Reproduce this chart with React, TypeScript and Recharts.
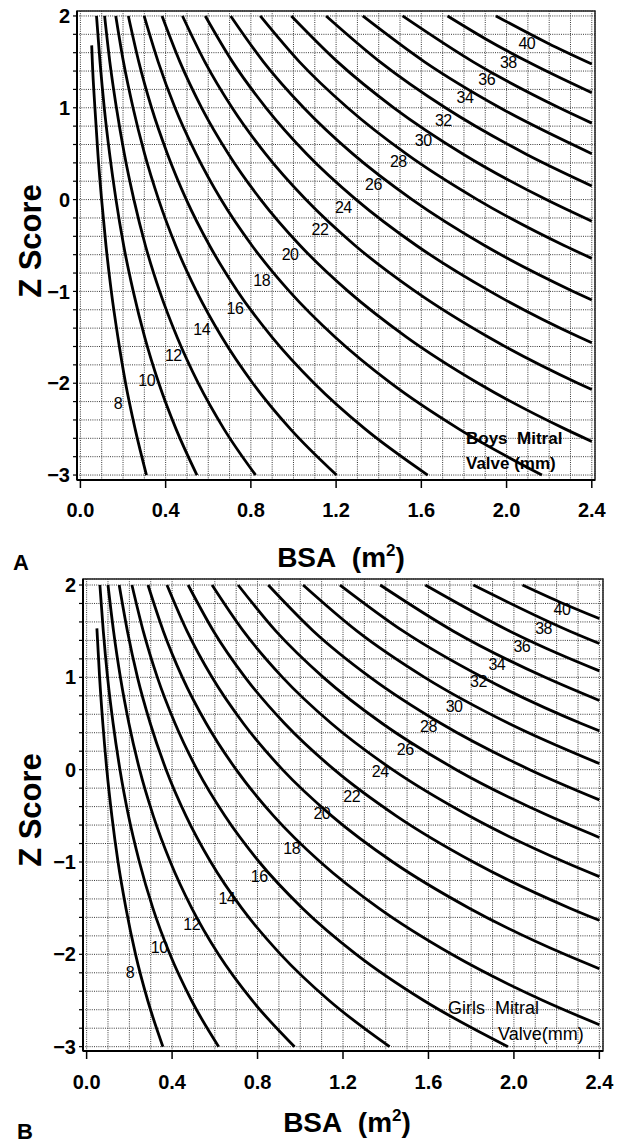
import { ComposedChart, Line, Scatter, XAxis, YAxis, CartesianGrid, ReferenceArea } from 'recharts'

const valveSizes = [8, 10, 12, 14, 16, 18, 20, 22, 24, 26, 28, 30, 32, 34, 36, 38, 40]

const bsaTicks = [
  0, 0.1, 0.2, 0.3, 0.4, 0.5, 0.6, 0.7, 0.8, 0.9, 1.0, 1.1, 1.2,
  1.3, 1.4, 1.5, 1.6, 1.7, 1.8, 1.9, 2.0, 2.1, 2.2, 2.3, 2.4
]

const zTicks = [
  -3, -2.8, -2.6, -2.4, -2.2, -2, -1.8, -1.6, -1.4, -1.2, -1, -0.8, -0.6,
  -0.4, -0.2, 0, 0.2, 0.4, 0.6, 0.8, 1, 1.2, 1.4, 1.6, 1.8, 2
]

// contour lines, one per valve size: [BSA, Z]
const boysCurves: number[][][] = [
  [[0.053, 1.68], [0.056, 1.5], [0.068, 1], [0.082, 0.5], [0.0995, 0], [0.12, -0.5], [0.145, -1], [0.176, -1.5], [0.212, -2], [0.257, -2.5], [0.31, -3]],
  [[0.0755, 2], [0.092, 1.5], [0.112, 1], [0.137, 0.5], [0.167, 0], [0.203, -0.5], [0.248, -1], [0.302, -1.5], [0.368, -2], [0.449, -2.5], [0.547, -3]],
  [[0.1135, 2], [0.138, 1.5], [0.169, 1], [0.206, 0.5], [0.251, 0], [0.305, -0.5], [0.372, -1], [0.454, -1.5], [0.553, -2], [0.674, -2.5], [0.822, -3]],
  [[0.166, 2], [0.202, 1.5], [0.247, 1], [0.301, 0.5], [0.367, 0], [0.447, -0.5], [0.545, -1], [0.664, -1.5], [0.809, -2], [0.986, -2.5], [1.202, -3]],
  [[0.225, 2], [0.274, 1.5], [0.334, 1], [0.408, 0.5], [0.497, 0], [0.606, -0.5], [0.738, -1], [0.9, -1.5], [1.097, -2], [1.337, -2.5], [1.63, -3]],
  [[0.299, 2], [0.365, 1.5], [0.444, 1], [0.542, 0.5], [0.66, 0], [0.805, -0.5], [0.981, -1], [1.196, -1.5], [1.457, -2], [1.777, -2.5], [2.166, -3]],
  [[0.383, 2], [0.467, 1.5], [0.569, 1], [0.694, 0.5], [0.846, 0], [1.031, -0.5], [1.257, -1], [1.532, -1.5], [1.867, -2], [2.276, -2.5], [2.4, -2.634]],
  [[0.479, 2], [0.584, 1.5], [0.712, 1], [0.868, 0.5], [1.058, 0], [1.289, -0.5], [1.572, -1], [1.916, -1.5], [2.335, -2], [2.4, -2.069]],
  [[0.586, 2], [0.714, 1.5], [0.871, 1], [1.061, 0.5], [1.294, 0], [1.577, -0.5], [1.923, -1], [2.343, -1.5], [2.4, -1.56]],
  [[0.705, 2], [0.859, 1.5], [1.048, 1], [1.277, 0.5], [1.557, 0], [1.897, -0.5], [2.313, -1], [2.4, -1.094]],
  [[0.844, 2], [1.028, 1.5], [1.254, 1], [1.528, 0.5], [1.863, 0], [2.27, -0.5], [2.4, -0.64]],
  [[0.99, 2], [1.207, 1.5], [1.471, 1], [1.793, 0.5], [2.186, 0], [2.4, -0.236]],
  [[1.153, 2], [1.406, 1.5], [1.713, 1], [2.088, 0.5], [2.4, 0.149]],
  [[1.325, 2], [1.615, 1.5], [1.969, 1], [2.4, 0.5]],
  [[1.512, 2], [1.843, 1.5], [2.247, 1], [2.4, 0.833]],
  [[1.723, 2], [1.902, 1.75], [2.1, 1.5], [2.4, 1.163]],
  [[1.95, 2], [2.196, 1.7], [2.4, 1.476]],
]

// same for the girls panel
const girlsCurves: number[][][] = [
  [[0.048, 1.53], [0.0607, 1], [0.0758, 0.5], [0.0945, 0], [0.118, -0.5], [0.147, -1], [0.184, -1.5], [0.229, -2], [0.286, -2.5], [0.357, -3]],
  [[0.062, 2], [0.078, 1.5], [0.098, 1], [0.124, 0.5], [0.156, 0], [0.196, -0.5], [0.247, -1], [0.31, -1.5], [0.39, -2], [0.491, -2.5], [0.618, -3]],
  [[0.1, 2], [0.126, 1.5], [0.158, 1], [0.198, 0.5], [0.248, 0], [0.312, -0.5], [0.392, -1], [0.492, -1.5], [0.617, -2], [0.775, -2.5], [0.973, -3]],
  [[0.1525, 2], [0.191, 1.5], [0.238, 1], [0.298, 0.5], [0.372, 0], [0.465, -0.5], [0.581, -1], [0.726, -1.5], [0.908, -2], [1.135, -2.5], [1.418, -3]],
  [[0.212, 2], [0.265, 1.5], [0.331, 1], [0.414, 0.5], [0.517, 0], [0.647, -0.5], [0.808, -1], [1.01, -1.5], [1.262, -2], [1.578, -2.5], [1.972, -3]],
  [[0.287, 2], [0.359, 1.5], [0.448, 1], [0.56, 0.5], [0.7, 0], [0.875, -0.5], [1.094, -1], [1.367, -1.5], [1.709, -2], [2.136, -2.5], [2.4, -2.762]],
  [[0.376, 2], [0.47, 1.5], [0.587, 1], [0.734, 0.5], [0.917, 0], [1.147, -0.5], [1.433, -1], [1.791, -1.5], [2.238, -2], [2.4, -2.156]],
  [[0.475, 2], [0.594, 1.5], [0.742, 1], [0.927, 0.5], [1.159, 0], [1.449, -0.5], [1.81, -1], [2.262, -1.5], [2.4, -1.632]],
  [[0.587, 2], [0.734, 1.5], [0.917, 1], [1.146, 0.5], [1.432, 0], [1.79, -0.5], [2.237, -1], [2.4, -1.158]],
  [[0.709, 2], [0.886, 1.5], [1.108, 1], [1.384, 0.5], [1.73, 0], [2.163, -0.5], [2.4, -0.734]],
  [[0.85, 2], [1.062, 1.5], [1.328, 1], [1.659, 0.5], [2.074, 0], [2.4, -0.327]],
  [[1.013, 2], [1.266, 1.5], [1.582, 1], [1.977, 0.5], [2.4, 0.066]],
  [[1.186, 2], [1.482, 1.5], [1.853, 1], [2.315, 0.5], [2.4, 0.42]],
  [[1.374, 2], [1.717, 1.5], [2.146, 1], [2.4, 0.749]],
  [[1.585, 2], [1.981, 1.5], [2.214, 1.25], [2.4, 1.07]],
  [[1.81, 2], [2.262, 1.5], [2.4, 1.367]],
  [[2.04, 2], [2.23, 1.8], [2.4, 1.636]],
]

// where each size number sits on the chart
const boysLabelBsa = [0.176, 0.311, 0.436, 0.569, 0.725, 0.851, 0.984, 1.124, 1.234, 1.375, 1.492, 1.609, 1.703, 1.805, 1.907, 2.008, 2.095]
const boysLabelZ = [-2.216, -1.965, -1.693, -1.413, -1.184, -0.876, -0.603, -0.331, -0.084, 0.159, 0.413, 0.649, 0.86, 1.114, 1.303, 1.491, 1.702]
const girlsLabelBsa = [0.203, 0.34, 0.492, 0.656, 0.808, 0.96, 1.101, 1.241, 1.374, 1.491, 1.6, 1.72, 1.834, 1.92, 2.037, 2.139, 2.225]
const girlsLabelZ = [-2.199, -1.93, -1.674, -1.4, -1.155, -0.851, -0.478, -0.286, -0.025, 0.221, 0.464, 0.688, 0.953, 1.141, 1.334, 1.533, 1.732]

const FONT = "'Liberation Sans', Arial, Helvetica, sans-serif"

function makeBsaTick(textOffset: number) {
  return function BsaTick(props: any) {
    const { x, y, payload } = props
    const v = payload.value
    if (Math.round(v * 10) % 4 !== 0) return <g />
    return (
      <g>
        <line x1={x} y1={y - 8} x2={x} y2={y} stroke="#000" strokeWidth={1.5} />
        <text x={x} y={y + textOffset} textAnchor="middle" fontSize={20} fontWeight={700} fontFamily={FONT} fill="#000">
          {v.toFixed(1)}
        </text>
      </g>
    )
  }
}

const formatZ = (v: number) => {
  if (!Number.isInteger(v)) return ''
  return v < 0 ? `\u2212${-v}` : `${v}`
}

interface PanelProps {
  curves: number[][][]
  labelBsa: number[]
  labelZ: number[]
  top: number
  height: number
  margin: { top: number; right: number; bottom: number; left: number }
  xDomain: [number, number]
  yDomain: [number, number]
  tickTextOffset: number
}

function MitralPanel({ curves, labelBsa, labelZ, top, height, margin, xDomain, yDomain, tickTextOffset }: PanelProps) {
  const labels = valveSizes.map((mm, i) => ({ bsa: labelBsa[i], z: labelZ[i], mm }))
  return (
    <div style={{ position: 'absolute', left: 0, top }}>
      <ComposedChart width={621} height={height} margin={margin}>
        <CartesianGrid stroke="#3a3a3a" strokeDasharray="1 1.2" strokeWidth={1} />
        <XAxis
          type="number"
          dataKey="bsa"
          domain={xDomain}
          allowDataOverflow
          ticks={bsaTicks}
          interval={0}
          height={32}
          tickSize={8}
          tickMargin={0}
          tickLine={false}
          axisLine={{ stroke: '#000', strokeWidth: 2 }}
          tick={makeBsaTick(tickTextOffset)}
        />
        <YAxis
          type="number"
          dataKey="z"
          domain={yDomain}
          allowDataOverflow
          ticks={zTicks}
          interval={0}
          width={40}
          tickSize={4}
          tickMargin={3}
          tickFormatter={formatZ}
          axisLine={{ stroke: '#000', strokeWidth: 2 }}
          tickLine={{ stroke: '#000', strokeWidth: 1.2 }}
          tick={{ fontSize: 20, fontWeight: 700, fill: '#000', fontFamily: FONT }}
        />
        <ReferenceArea x1={xDomain[0]} x2={xDomain[1]} y1={yDomain[0]} y2={yDomain[1]} fill="none" fillOpacity={0} stroke="#222" strokeWidth={1.5} />
        {curves.map((pts, i) => (
          <Line
            key={`mm-${valveSizes[i]}`}
            data={pts.map(([bsa, z]) => ({ bsa, z }))}
            dataKey="z"
            type="monotone"
            stroke="#000"
            strokeWidth={2.8}
            dot={false}
            activeDot={false}
            isAnimationActive={false}
          />
        ))}
        <Scatter
          data={labels}
          isAnimationActive={false}
          shape={(p: any) => (
            <text x={p.cx} y={p.cy} textAnchor="middle" dominantBaseline="central" fontSize={16} fontFamily={FONT} letterSpacing={-0.5} fill="#000">
              {p.payload.mm}
            </text>
          )}
        />
      </ComposedChart>
    </div>
  )
}

const textBase: React.CSSProperties = {
  position: 'absolute',
  fontFamily: FONT,
  lineHeight: 1,
  whiteSpace: 'nowrap',
  color: '#000',
}

function AxisTitle({ cx, cy }: { cx: number; cy: number }) {
  return (
    <div style={{ ...textBase, left: cx, top: cy, fontSize: 31, fontWeight: 700, transform: 'translate(-50%, -50%) rotate(-90deg)' }}>
      Z Score
    </div>
  )
}

function BsaTitle({ cx, top }: { cx: number; top: number }) {
  return (
    <div style={{ ...textBase, left: cx, top, fontSize: 28, fontWeight: 700, transform: 'translateX(-50%)' }}>
      BSA&nbsp;&nbsp;(m<span style={{ fontSize: 17, position: 'relative', top: -11 }}>2</span>)
    </div>
  )
}

export default function App() {
  return (
    <div style={{ position: 'absolute', left: 0, top: 0, width: 621, height: 1143, background: '#fff', overflow: 'hidden' }}>
      <MitralPanel
        curves={boysCurves}
        labelBsa={boysLabelBsa}
        labelZ={boysLabelZ}
        top={0}
        height={540}
        margin={{ top: 11, right: 26, bottom: 28, left: 37 }}
        xDomain={[-0.016, 2.415]}
        yDomain={[-3.054, 2.054]}
        tickTextOffset={29}
      />
      <MitralPanel
        curves={girlsCurves}
        labelBsa={girlsLabelBsa}
        labelZ={girlsLabelZ}
        top={568}
        height={575}
        margin={{ top: 11, right: 18, bottom: 60, left: 43 }}
        xDomain={[-0.017, 2.417]}
        yDomain={[-3.047, 2.065]}
        tickTextOffset={30}
      />

      <AxisTitle cx={30} cy={241} />
      <AxisTitle cx={30} cy={810} />
      <BsaTitle cx={341} top={544} />
      <BsaTitle cx={347} top={1109} />

      <div style={{ ...textBase, left: 13, top: 552, fontSize: 22, fontWeight: 700 }}>A</div>
      <div style={{ ...textBase, left: 17, top: 1121, fontSize: 22, fontWeight: 700 }}>B</div>

      <div style={{ ...textBase, left: 466, top: 430, fontSize: 17, fontWeight: 700 }}>Boys&nbsp;&nbsp;Mitral</div>
      <div style={{ ...textBase, left: 466, top: 455, fontSize: 17, fontWeight: 700 }}>Valve (mm)</div>
      <div style={{ ...textBase, left: 448, top: 999, fontSize: 18 }}>Girls&nbsp;&nbsp;Mitral</div>
      <div style={{ ...textBase, left: 498, top: 1025, fontSize: 18 }}>Valve(mm)</div>
    </div>
  )
}
